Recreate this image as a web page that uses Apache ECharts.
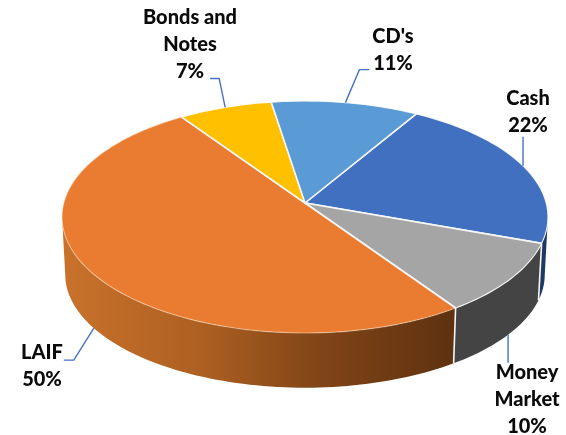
<!DOCTYPE html>
<html>
<head>
<meta charset="utf-8">
<style>html,body{margin:0;padding:0;background:#fff}#chart{width:566px;height:435px}</style>
<script src="https://cdn.jsdelivr.net/npm/echarts@6/dist/echarts.min.js"></script>
</head>
<body>
<div id="chart"></div>
<script>
// Portfolio allocation, percent of total, clockwise from the Cash slice.
const categories = ['Cash', 'Money Market', 'LAIF', 'Bonds and Notes', "CD's"];
const shares = [22, 10, 50, 7, 11];
const labelTexts = ['Cash\n22%', 'Money\nMarket\n10%', 'LAIF\n50%', 'Bonds and\nNotes\n7%', "CD's\n11%"];
const topColors = ['#4170C0', '#A5A5A5', '#E97C30', '#FFC000', '#5B9BD5'];

// Where each label sits, and the bends of its leader line relative to the rim anchor.
const labelAt = [[528, 98], [527, 372], [42, 352], [190, 17], [393, 36]];
const leaderBends = [
  [[0, -29]],
  [[0, 28]],
  [[-20, 32], [-30, 32]],
  [[-6, -29], [-15, -29]],
  [[14, -33], [24, -33]]
];
// Slices whose anchor lies on the lower rim rather than the top one.
const anchorsOnBase = [false, true, true, false, false];

const startAngle = 30.6;
const tilt = -0.1207;             // perspective strength of the disc
const topDisc = { ox: 305, oy: 203, sx: 241.2, sy: 114.3 };
const baseDisc = { ox: 305, oy: 261, sx: 238, sy: 111.4 };
const INK = '#0b0b0b';
const LEADER = '#4472C4';

// Angles at which the rim reaches its left and right extremes: only the wall between them shows.
const wallFrom = Math.acos(tilt) * 180 / Math.PI;
const wallTo = 360 - wallFrom;

const total = shares.reduce((a, b) => a + b, 0);
const arcs = [];
shares.reduce((from, v) => {
  const to = from + v / total * 360;
  arcs.push([from, to]);
  return to;
}, startAngle);

// Project an angle (degrees clockwise from 12 o'clock) onto a disc rim.
function rim(deg, disc) {
  const a = deg * Math.PI / 180;
  const u = Math.sin(a), v = -Math.cos(a), w = 1 + tilt * v;
  return [disc.ox + disc.sx * u / w, disc.oy + disc.sy * v / w];
}
function rimRun(from, to, disc) {
  const n = Math.max(2, Math.ceil((to - from) / 1.5));
  const pts = [];
  for (let i = 0; i <= n; i++) pts.push(rim(from + (to - from) * i / n, disc));
  return pts;
}
function wallFill(i) {
  if (i === 2) {
    return new echarts.graphic.LinearGradient(0, 0, 1, 0, [
      { offset: 0, color: '#C9722B' },
      { offset: 0.35, color: '#AE6022' },
      { offset: 0.65, color: '#814517' },
      { offset: 1, color: '#5E3110' }
    ]);
  }
  return i === 1 ? '#444444' : '#1F3864';
}

const chart = echarts.init(document.getElementById('chart'), null, { renderer: 'canvas' });
chart.setOption({
  animation: false,
  backgroundColor: '#fff',
  series: [
    {
      // Visible side walls of the disc, painted before the top surface.
      type: 'custom', coordinateSystem: 'none', silent: true, z: 1,
      data: shares,
      renderItem(params) {
        const i = params.dataIndex;
        const from = Math.max(arcs[i][0], wallFrom), to = Math.min(arcs[i][1], wallTo);
        if (from >= to) return { type: 'group', children: [] };
        const points = rimRun(from, to, topDisc).concat(rimRun(from, to, baseDisc).reverse());
        return { type: 'polygon', shape: { points }, style: { fill: wallFill(i) } };
      }
    },
    {
      // Top surface of each slice plus its white separators.
      type: 'custom', coordinateSystem: 'none', silent: true, z: 2,
      data: shares,
      renderItem(params) {
        const i = params.dataIndex;
        const [from, to] = arcs[i];
        const apex = [topDisc.ox, topDisc.oy];
        const run = rimRun(from, to, topDisc);
        const children = [
          { type: 'polygon', shape: { points: [apex].concat(run) }, style: { fill: topColors[i] } },
          {
            type: 'polyline', shape: { points: run },
            style: { fill: null, stroke: i === 2 ? 'rgba(255,235,215,0.45)' : 'rgba(255,255,255,0.85)', lineWidth: 1.2 }
          },
          {
            type: 'polyline', shape: { points: [run[run.length - 1], apex, run[0]] },
            style: { fill: null, stroke: '#F6F6F6', lineWidth: 1.6 }
          }
        ];
        // Seam running down the wall at the end of the front slices.
        if (i < 2) {
          const a = rim(to, topDisc), b = rim(to, baseDisc);
          children.push({
            type: 'line',
            shape: { x1: a[0], y1: a[1], x2: b[0], y2: b[1] },
            style: { stroke: '#F6F6F6', lineWidth: 1.6 }
          });
        }
        return { type: 'group', children };
      }
    },
    {
      // Leader lines and the category / percentage labels.
      type: 'custom', coordinateSystem: 'none', silent: true, z: 3,
      data: shares,
      renderItem(params) {
        const i = params.dataIndex;
        const mid = (arcs[i][0] + arcs[i][1]) / 2;
        const anchor = rim(mid, anchorsOnBase[i] ? baseDisc : topDisc);
        const points = [anchor].concat(leaderBends[i].map(d => [anchor[0] + d[0], anchor[1] + d[1]]));
        return {
          type: 'group',
          children: [
            { type: 'polyline', shape: { points }, style: { fill: null, stroke: LEADER, lineWidth: 1.4 } },
            {
              type: 'text', x: labelAt[i][0], y: labelAt[i][1] - 13,
              style: {
                text: labelTexts[i], fill: INK, align: 'center', verticalAlign: 'top',
                fontFamily: 'Lato', fontWeight: 900, fontSize: 20, lineHeight: 27
              }
            }
          ]
        };
      }
    }
  ]
});
</script>
</body>
</html>
